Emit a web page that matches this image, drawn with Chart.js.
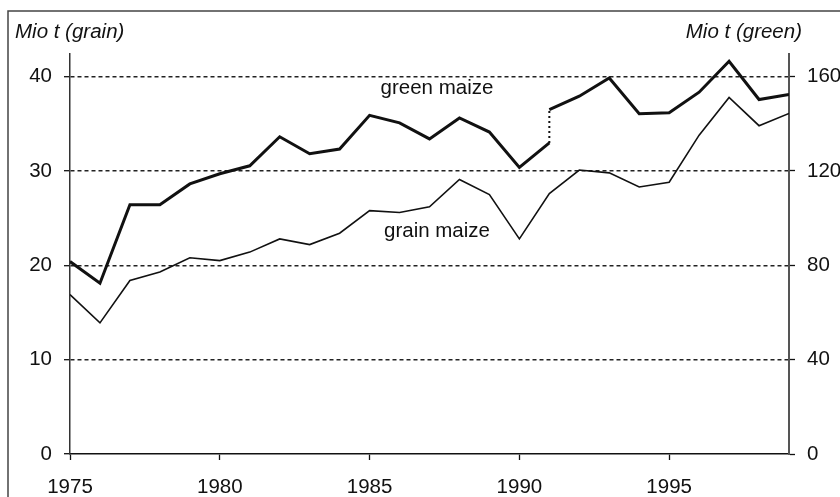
<!DOCTYPE html>
<html>
<head>
<meta charset="utf-8">
<title>Maize production</title>
<script src="https://cdn.jsdelivr.net/npm/chart.js@4.4.1/dist/chart.umd.min.js"></script>
<style>
    html, body { margin: 0; padding: 0; background: #fff; }
    #wrap { width: 840px; height: 497px; position: relative; }
</style>
</head>
<body>
<div id="wrap"><canvas id="maizeChart" width="840" height="497"></canvas></div>
<script>
// Years on the x axis
const years = [1975, 1976, 1977, 1978, 1979, 1980, 1981, 1982, 1983, 1984, 1985, 1986,
               1987, 1988, 1989, 1990, 1991, 1992, 1993, 1994, 1995, 1996, 1997, 1998, 1999];

// Grain maize, Mio t (left axis)
const grainMaize = [16.9, 13.9, 18.4, 19.3, 20.8, 20.5, 21.4, 22.8, 22.2, 23.4, 25.8, 25.6,
                    26.2, 29.1, 27.5, 22.8, 27.6, 30.1, 29.8, 28.3, 28.8, 33.8, 37.8, 34.8, 36.1];

// Green maize, Mio t (right axis) - series break in 1991
const greenYearsOld = [1975, 1976, 1977, 1978, 1979, 1980, 1981, 1982, 1983, 1984, 1985, 1986,
                       1987, 1988, 1989, 1990, 1991];
const greenMaizeOld = [81.6, 72.4, 105.7, 105.7, 114.5, 118.8, 122.2, 134.5, 127.3, 129.3, 143.6, 140.4,
                       133.6, 142.5, 136.5, 121.5, 131.9];
const greenYearsNew = [1991, 1992, 1993, 1994, 1995, 1996, 1997, 1998, 1999];
const greenMaizeNew = [146.0, 151.7, 159.4, 144.3, 144.7, 153.4, 166.5, 150.3, 152.4];

// Tick labels
const xTicks = [1975, 1980, 1985, 1990, 1995];
const leftTicks = [0, 10, 20, 30, 40];
const rightTicks = [0, 40, 80, 120, 160];

const leftMax = 42.4;
const rightMax = 169.6;

const FONT = '"Liberation Sans", Arial, sans-serif';
const INK = '#111';

// Series labels placed in data units
const seriesLabels = [
    { text: 'green maize', year: 1987.25, value: 154.9, axis: 'yR' },
    { text: 'grain maize', year: 1987.25, value: 23.6, axis: 'y' }
];

function toPoints(xs, ys) {
    return xs.map((x, i) => ({ x: x, y: ys[i] }));
}

// Frame, axis titles and in-chart labels
const decorPlugin = {
    id: 'decor',
    beforeDraw(chart) {
        const ctx = chart.ctx;
        ctx.save();
        ctx.fillStyle = '#fff';
        ctx.fillRect(0, 0, chart.width, chart.height);
        ctx.strokeStyle = '#444';
        ctx.lineWidth = 1.5;
        ctx.beginPath();
        ctx.moveTo(8, chart.height);
        ctx.lineTo(8, 11);
        ctx.lineTo(chart.width, 11);
        ctx.stroke();
        ctx.restore();
    },
    afterDraw(chart) {
        const ctx = chart.ctx;
        ctx.save();
        ctx.fillStyle = INK;
        ctx.textBaseline = 'middle';
        ctx.font = 'italic 20.5px ' + FONT;
        ctx.textAlign = 'left';
        ctx.fillText('Mio t (grain)', 15, 32);
        ctx.textAlign = 'right';
        ctx.fillText('Mio t (green)', 802, 32);

        ctx.font = '20.5px ' + FONT;
        ctx.textAlign = 'center';
        seriesLabels.forEach(l => {
            const px = chart.scales.x.getPixelForValue(l.year);
            const py = chart.scales[l.axis].getPixelForValue(l.value);
            ctx.fillText(l.text, px, py);
        });
        ctx.restore();
    }
};

const ctx = document.getElementById('maizeChart').getContext('2d');

new Chart(ctx, {
    type: 'line',
    data: {
        datasets: [
            {
                label: 'grain maize',
                data: toPoints(years, grainMaize),
                yAxisID: 'y',
                borderColor: INK,
                borderWidth: 1.6,
                pointRadius: 0,
                tension: 0
            },
            {
                label: 'green maize (old)',
                data: toPoints(greenYearsOld, greenMaizeOld),
                yAxisID: 'yR',
                borderColor: INK,
                borderWidth: 3,
                pointRadius: 0,
                tension: 0
            },
            {
                label: 'green maize (new)',
                data: toPoints(greenYearsNew, greenMaizeNew),
                yAxisID: 'yR',
                borderColor: INK,
                borderWidth: 3,
                pointRadius: 0,
                tension: 0
            },
            {
                // dotted link at the 1991 series break
                label: 'break',
                data: [
                    { x: greenYearsOld[greenYearsOld.length - 1], y: greenMaizeOld[greenMaizeOld.length - 1] },
                    { x: greenYearsNew[0], y: greenMaizeNew[0] }
                ],
                yAxisID: 'yR',
                borderColor: INK,
                borderWidth: 2,
                borderDash: [2, 3],
                pointRadius: 0
            }
        ]
    },
    options: {
        responsive: false,
        animation: false,
        layout: { padding: { top: 54, left: 0, right: 0, bottom: 0 } },
        plugins: {
            legend: { display: false },
            tooltip: { enabled: false }
        },
        scales: {
            x: {
                type: 'linear',
                min: 1975,
                max: 1999,
                afterBuildTicks: (scale) => { scale.ticks = xTicks.map(v => ({ value: v })); },
                afterFit: (scale) => { scale.height = 43; },
                ticks: {
                    color: INK,
                    font: { family: FONT, size: 20.5 },
                    padding: 15,
                    maxRotation: 0,
                    callback: (v) => String(v)
                },
                grid: {
                    drawOnChartArea: false,
                    drawTicks: true,
                    tickLength: 6,
                    tickColor: INK,
                    tickWidth: 1.3
                },
                border: { display: true, color: INK, width: 1.6 }
            },
            y: {
                position: 'left',
                min: 0,
                max: leftMax,
                afterBuildTicks: (scale) => { scale.ticks = leftTicks.map(v => ({ value: v })); },
                afterFit: (scale) => { scale.width = 70; },
                ticks: {
                    color: INK,
                    font: { family: FONT, size: 20.5 },
                    padding: 12
                },
                grid: {
                    drawOnChartArea: true,
                    color: (c) => c.tick && c.tick.value === 0 ? 'rgba(0,0,0,0)' : '#222',
                    lineWidth: 1.4,
                    drawTicks: true,
                    tickLength: 6,
                    tickColor: INK,
                    tickWidth: 1.3
                },
                border: { display: true, color: '#333', width: 1.5, dash: [4, 3] }
            },
            yR: {
                position: 'right',
                min: 0,
                max: rightMax,
                afterBuildTicks: (scale) => { scale.ticks = rightTicks.map(v => ({ value: v })); },
                afterFit: (scale) => { scale.width = 51; },
                ticks: {
                    color: INK,
                    font: { family: FONT, size: 20.5 },
                    padding: 12
                },
                grid: {
                    drawOnChartArea: false,
                    drawTicks: true,
                    tickLength: 6,
                    tickColor: INK,
                    tickWidth: 1.3
                },
                border: { display: true, color: '#555', width: 2 }
            }
        }
    },
    plugins: [decorPlugin]
});
</script>
</body>
</html>
